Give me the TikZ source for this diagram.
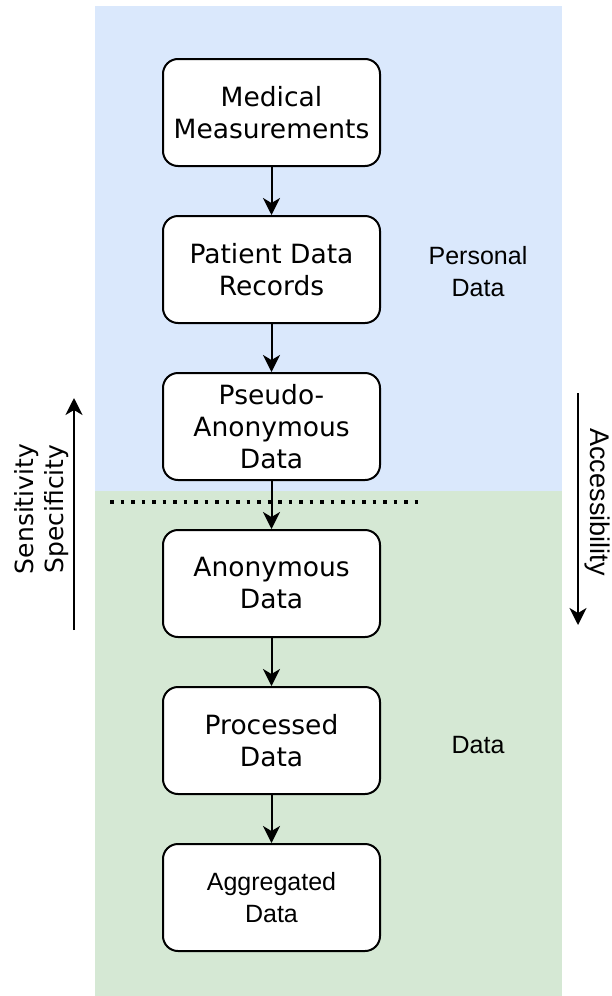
\documentclass[tikz,border=0pt]{standalone}
\usepackage{fontspec}
\setmainfont{DejaVu Sans}
\newfontfamily\arialfont{Liberation Sans}
\usetikzlibrary{arrows.meta, positioning}
\definecolor{personalblue}{HTML}{DAE8FC}
\definecolor{datagreen}{HTML}{D5E8D4}
\tikzset{
    stage/.style={draw, line width=2pt, rounded corners=15pt, fill=white,
        minimum width=217pt, minimum height=107pt, align=center,
        font=\fontsize{26.5}{32}\selectfont},
    flow/.style={line width=2pt, -{Stealth[length=17pt, width=17pt, inset=5pt]}},
    side/.style={align=center, font=\arialfont\fontsize{25}{32}\selectfont}
}
\begin{document}
\begin{tikzpicture}[x=1pt, y=-1pt, node distance=48pt]
\useasboundingbox (0,0) rectangle (612,996);

% Background regions
\fill[personalblue] (95,6) rectangle (562,491);
\fill[datagreen] (95,491) rectangle (562,996);

% Data stages
\node[stage] (meas) at (271.5,112.5) {Medical\\Measurements};
\node[stage, below=of meas] (records) {Patient Data\\Records};
\node[stage, below=of records] (pseudo) {Pseudo-\\Anonymous\\Data};
\node[stage, below=of pseudo] (anon) {Anonymous\\Data};
\node[stage, below=of anon] (proc) {Processed\\Data};
\node[stage, below=of proc, font=\arialfont\fontsize{25}{32}\selectfont] (aggr) {Aggregated\\Data};

\draw[flow] (meas) -- (records);
\draw[flow] (records) -- (pseudo);
\draw[flow] (pseudo) -- (anon);
\draw[flow] (anon) -- (proc);
\draw[flow] (proc) -- (aggr);

% Boundary between personal and anonymous data
\coordinate (sepL) at (110,502);
\coordinate (sepR) at (421,502);
\draw[line width=3.5pt, dash pattern=on 3.5pt off 7pt] (sepL) -- (sepR);

% Region labels
\node[side] (personal) at (478,272) {Personal\\Data};
\node[side] (data) at (478,745) {Data};

% Side scales
\coordinate (sensLow) at (74,630);
\coordinate (sensHigh) at (74,398);
\draw[flow] (sensLow) -- (sensHigh);
\node[rotate=90, align=center, font=\fontsize{25}{30}\selectfont] (sens) at (42,509) {Sensitivity\\Specificity};

\coordinate (accLow) at (578,393);
\coordinate (accHigh) at (578,625);
\draw[flow] (accLow) -- (accHigh);
\node[rotate=-90, font=\arialfont\fontsize{27}{30}\selectfont] (acc) at (597,502) {Accessibility};

\end{tikzpicture}
\end{document}
